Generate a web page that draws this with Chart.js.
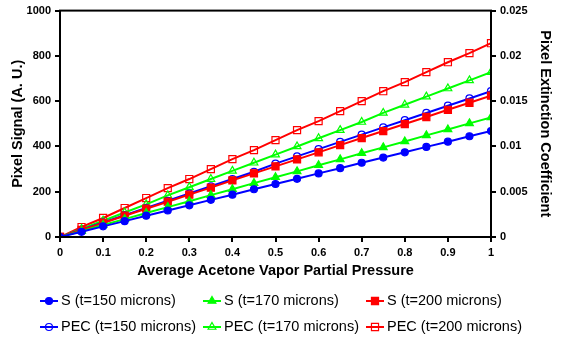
<!DOCTYPE html>
<html>
<head>
<meta charset="utf-8">
<script src="https://cdn.jsdelivr.net/npm/chart.js@4.4.1/dist/chart.umd.min.js"></script>
<style>
  html, body { margin: 0; padding: 0; background: #fff; }
  #wrap { width: 564px; height: 341px; position: relative; }
</style>
</head>
<body>
<div id="wrap"><canvas id="chart"></canvas></div>
<script>
// partial pressure, 0 to 1 in 0.05 steps
const pressure = [0, 0.05, 0.1, 0.15, 0.2, 0.25, 0.3, 0.35, 0.4, 0.45, 0.5,
  0.55, 0.6, 0.65, 0.7, 0.75, 0.8, 0.85, 0.9, 0.95, 1];

// pixel signal (left axis)
const s150 = [0, 23, 47, 70, 94, 117, 140, 164, 187, 211, 234, 257, 281, 304, 328, 351, 374, 398, 421, 445, 468];
const s170 = [0, 26, 53, 79, 106, 132, 158, 185, 211, 238, 264, 290, 317, 343, 370, 396, 422, 449, 475, 502, 528];
const s200 = [0, 31, 62, 94, 125, 156, 187, 218, 250, 281, 312, 343, 374, 406, 437, 468, 499, 530, 562, 593, 624];

// pixel extinction coefficient (right axis)
const pec150 = [0, 0.0008, 0.0016, 0.0024, 0.0032, 0.0040, 0.0048, 0.0056, 0.0064, 0.0072, 0.0081,
  0.0089, 0.0097, 0.0105, 0.0113, 0.0121, 0.0129, 0.0137, 0.0145, 0.0153, 0.0161];
const pec170 = [0, 0.0009, 0.0018, 0.0027, 0.0036, 0.0046, 0.0055, 0.0064, 0.0073, 0.0082, 0.0091,
  0.0100, 0.0109, 0.0118, 0.0127, 0.0137, 0.0146, 0.0155, 0.0164, 0.0173, 0.0182];
const pec200 = [0, 0.0011, 0.0021, 0.0032, 0.0043, 0.0054, 0.0064, 0.0075, 0.0086, 0.0096, 0.0107,
  0.0118, 0.0128, 0.0139, 0.0150, 0.0161, 0.0171, 0.0182, 0.0193, 0.0203, 0.0214];

const labels = ['S (t=150 microns)', 'S (t=170 microns)', 'S (t=200 microns)',
  'PEC (t=150 microns)', 'PEC (t=170 microns)', 'PEC (t=200 microns)'];

const FONT = "'Liberation Sans', Arial, sans-serif";
const BLUE = '#0000ff', GREEN = '#00ff00', RED = '#ff0000';

function pts(arr) {
  return arr.map((v, i) => ({ x: pressure[i], y: v }));
}

function series(label, data, color, style, radius, filled, axis) {
  return {
    label: label,
    data: pts(data),
    yAxisID: axis,
    borderColor: color,
    borderWidth: 2,
    pointStyle: style,
    pointRadius: radius,
    pointBorderWidth: 1.2,
    pointBorderColor: color,
    pointBackgroundColor: filled ? color : 'rgba(0,0,0,0)',
    tension: 0,
    fill: false
  };
}

// box round the plot area
const frame = {
  id: 'frame',
  afterDatasetsDraw(chart) {
    const a = chart.chartArea;
    const ctx = chart.ctx;
    ctx.save();
    ctx.strokeStyle = '#000';
    ctx.lineWidth = 2;
    ctx.strokeRect(a.left, a.top, a.right - a.left, a.bottom - a.top);
    ctx.restore();
  }
};

// three-column legend under the axis title
const legendGrid = {
  id: 'legendGrid',
  afterDraw(chart) {
    const ctx = chart.ctx;
    const colX = [40, 203, 366];
    const rowY = [301, 327];
    chart.data.datasets.forEach((ds, i) => {
      const x = colX[i % 3];
      const y = rowY[Math.floor(i / 3)];
      ctx.save();
      ctx.strokeStyle = ds.borderColor;
      ctx.lineWidth = 2;
      ctx.beginPath();
      ctx.moveTo(x, y);
      ctx.lineTo(x + 18, y);
      ctx.stroke();
      ctx.fillStyle = ds.pointBackgroundColor;
      ctx.strokeStyle = ds.pointBorderColor;
      ctx.lineWidth = 1.2;
      Chart.helpers.drawPoint(ctx, {
        pointStyle: ds.pointStyle,
        radius: ds.pointRadius,
        borderWidth: 1.2
      }, x + 9, y);
      ctx.font = '14.5px ' + FONT;
      ctx.textBaseline = 'middle';
      ctx.fillStyle = '#000';
      ctx.fillText(ds.label, x + 21, y);
      ctx.restore();
    });
  }
};

const tickFont = { family: FONT, size: 11, weight: 'bold' };
const titleFont = { family: FONT, size: 14.5, weight: 'bold' };
const axisGrid = { drawOnChartArea: false, drawTicks: true, tickLength: 5, color: '#000', lineWidth: 2 };
const axisBorder = { color: '#000', width: 2 };

new Chart(document.getElementById('chart'), {
  type: 'line',
  data: {
    datasets: [
      series(labels[0], s150, BLUE, 'circle', 3.5, true, 'y'),
      series(labels[1], s170, GREEN, 'triangle', 4.5, true, 'y'),
      series(labels[2], s200, RED, 'rect', 5, true, 'y'),
      series(labels[3], pec150, BLUE, 'circle', 3.5, false, 'y1'),
      series(labels[4], pec170, GREEN, 'triangle', 4.5, false, 'y1'),
      series(labels[5], pec200, RED, 'rect', 5, false, 'y1')
    ]
  },
  options: {
    responsive: true,
    maintainAspectRatio: false,
    animation: false,
    events: [],
    layout: { padding: { top: 8, left: 0, right: 0, bottom: 60 } },
    plugins: {
      legend: { display: false },
      tooltip: { enabled: false }
    },
    scales: {
      x: {
        type: 'linear',
        min: 0,
        max: 1,
        afterFit(s) { s.height = 44; },
        ticks: {
          stepSize: 0.1,
          color: '#000',
          font: tickFont,
          padding: 4,
          maxRotation: 0,
          callback: v => String(+v.toFixed(1))
        },
        grid: axisGrid,
        border: axisBorder,
        title: {
          display: true,
          text: 'Average Acetone Vapor Partial Pressure',
          color: '#000',
          font: titleFont,
          padding: { top: 0, bottom: 1 }
        }
      },
      y: {
        position: 'left',
        min: 0,
        max: 1000,
        afterFit(s) { s.width = 60; },
        ticks: { stepSize: 200, color: '#000', font: tickFont, padding: 4, callback: v => String(v) },
        grid: axisGrid,
        border: axisBorder,
        title: {
          display: true,
          text: 'Pixel Signal (A. U.)',
          color: '#000',
          font: titleFont,
          padding: { top: 9, bottom: 0 }
        }
      },
      y1: {
        position: 'right',
        min: 0,
        max: 0.025,
        afterFit(s) { s.width = 73; },
        ticks: {
          stepSize: 0.005,
          color: '#000',
          font: tickFont,
          padding: 4,
          callback: v => String(+v.toFixed(3))
        },
        grid: axisGrid,
        border: axisBorder,
        title: {
          display: true,
          text: 'Pixel Extinction Coefficient',
          color: '#000',
          font: titleFont,
          padding: { top: 10, bottom: 0 }
        }
      }
    }
  },
  plugins: [frame, legendGrid]
});
</script>
</body>
</html>
